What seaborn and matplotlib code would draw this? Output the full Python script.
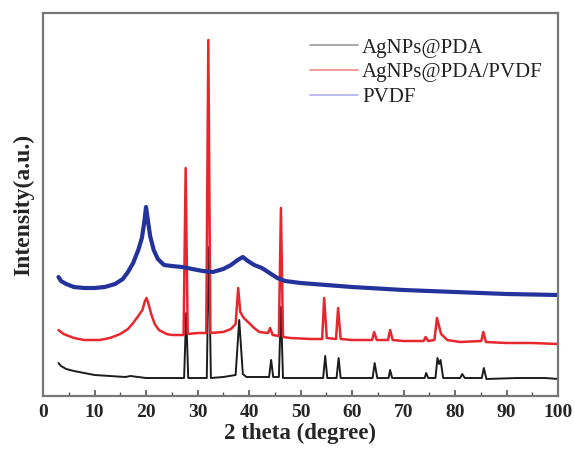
import matplotlib
matplotlib.use("Agg")
import matplotlib.pyplot as plt
import seaborn as sns
import pandas as pd

# ---- data (2theta in degrees, intensity in a.u.) ----
series_names = ["AgNPs@PDA", "AgNPs@PDA/PVDF", "PVDF"]

agnps_pda = [(3, 33), (3.5, 30), (4.5, 27), (6, 25), (8, 23), (10, 21), (13, 20), (16, 19), (17, 20),
             (20, 18), (23, 18), (26, 18), (27.4, 18), (27.8, 83), (28.2, 18), (31.8, 18),
             (32.2, 149), (32.6, 18), (35, 19), (37.4, 21), (38.1, 76), (38.8, 22), (39.5, 19),
             (43.9, 19), (44.3, 36), (44.7, 19), (45.8, 19), (46.2, 89), (46.6, 18), (50, 18),
             (54.4, 18), (54.8, 40), (55.2, 18), (57.0, 18), (57.4, 38), (57.8, 18), (64.0, 18),
             (64.4, 33), (64.9, 18), (67.1, 18), (67.4, 26), (67.8, 18), (74.1, 18), (74.4, 23),
             (74.8, 18), (76.2, 18), (76.6, 38), (76.9, 32), (77.2, 36), (77.7, 18), (81.0, 18),
             (81.4, 22), (81.9, 18), (85.2, 18), (85.6, 28), (86.1, 17), (92, 18), (97.5, 18),
             (100, 17)]

agnps_pda_pvdf = [(3, 66), (4, 62), (6, 58), (8, 56), (11, 56), (13, 58), (15, 62), (16.5, 67),
                  (17.5, 73), (18.5, 80), (19.3, 86), (19.8, 95), (20.1, 98), (20.5, 92), (21, 82),
                  (21.7, 72), (22.5, 66), (24, 62), (25, 61), (27.3, 61), (27.7, 228), (28.1, 62),
                  (30, 63), (31.7, 63), (32.1, 356), (32.5, 63), (35, 64), (36.5, 67), (37.4, 72),
                  (37.9, 108), (38.3, 84), (39, 78), (40, 73), (41, 68), (42, 64), (43.7, 63),
                  (44.1, 68), (44.6, 61), (45.8, 60), (46.2, 188), (46.6, 59), (48, 58), (52, 57),
                  (54.2, 57), (54.6, 98), (55.1, 58), (56.9, 57), (57.3, 88), (57.8, 57), (60, 56),
                  (63.9, 56), (64.3, 64), (64.8, 56), (67.0, 56), (67.4, 66), (67.9, 56), (70, 55),
                  (73.9, 55), (74.3, 59), (74.8, 55), (76.0, 56), (76.5, 78), (77.3, 62), (78.5, 56),
                  (81, 54), (85.1, 55), (85.5, 64), (86, 54), (90, 53), (95, 53), (100, 52)]

pvdf = [(3, 119), (3.5, 115), (4.5, 112), (6, 109), (8, 108), (10, 108), (12, 109), (14, 112),
        (15.5, 117), (16.5, 124), (17.5, 133), (18.5, 146), (19.2, 158), (19.7, 175), (20.0, 189),
        (20.3, 178), (20.8, 160), (21.5, 146), (22.3, 137), (23.5, 131), (25, 130), (27, 129),
        (29, 127), (31, 125), (33, 124), (35, 127), (36.5, 131), (37.8, 136), (38.8, 139),
        (39.8, 135), (41, 131), (42.5, 128), (44, 123), (45.5, 118), (47, 115), (50, 113),
        (55, 111), (60, 109), (70, 106), (80, 104), (90, 102), (100, 101)]

x_ticks = [0, 10, 20, 30, 40, 50, 60, 70, 80, 90, 100]

rows = []
for name, pts in zip(series_names, [agnps_pda, agnps_pda_pvdf, pvdf]):
    for x, y in pts:
        rows.append({"theta": x, "intensity": y, "sample": name})
df = pd.DataFrame(rows)

# ---- style ----
sns.set_theme(style="white")
plt.rcParams["font.family"] = ["Liberation Serif", "DejaVu Serif"]

fig = plt.figure(figsize=(5.74, 4.58), dpi=100)
ax = fig.add_axes([43 / 574, 1 - 396 / 458, 515 / 574, 383 / 458])

palette = {"AgNPs@PDA": "#1c1c1c", "AgNPs@PDA/PVDF": "#e8262d", "PVDF": "#24329c"}
widths = {"AgNPs@PDA": 1.4, "AgNPs@PDA/PVDF": 1.8, "PVDF": 3.0}

for name in series_names:
    sub = df[df["sample"] == name]
    sns.lineplot(data=sub, x="theta", y="intensity", color=palette[name],
                 linewidth=widths[name], ax=ax, label=name, estimator=None, sort=False)

ax.set_xlim(0, 100)
ax.set_ylim(0, 383)
ax.set_xticks(x_ticks)
ax.set_xticks(range(5, 100, 10), minor=True)
ax.set_yticks([])
ax.tick_params(axis="x", which="major", direction="in", length=4, width=1.2,
               color="#555555", bottom=True, labelsize=14, pad=6)
ax.tick_params(axis="x", which="minor", direction="in", length=3, width=1.0,
               color="#555555", bottom=True)
for lbl in ax.get_xticklabels():
    lbl.set_fontweight("bold")

for sp in ax.spines.values():
    sp.set_color("#777777")
    sp.set_linewidth(1.6)

ax.set_xlabel("2 theta (degree)", fontsize=16.5, fontweight="bold", labelpad=1)
ax.set_ylabel("Intensity(a.u.)", fontsize=17, fontweight="bold", labelpad=6)

leg = ax.legend(loc="upper left", bbox_to_anchor=(0.498, 0.962), frameon=False,
                fontsize=15, handlelength=2.3, handletextpad=0.2, labelspacing=0.25,
                borderpad=0)
for h, c in zip(leg.get_lines(), ["#9a9a9a", "#f08a8a", "#b0b0ee"]):
    h.set_color(c)
    h.set_linewidth(1.2)
for t in leg.get_texts():
    t.set_color("#222222")

fig.savefig("out.png", dpi=100)
